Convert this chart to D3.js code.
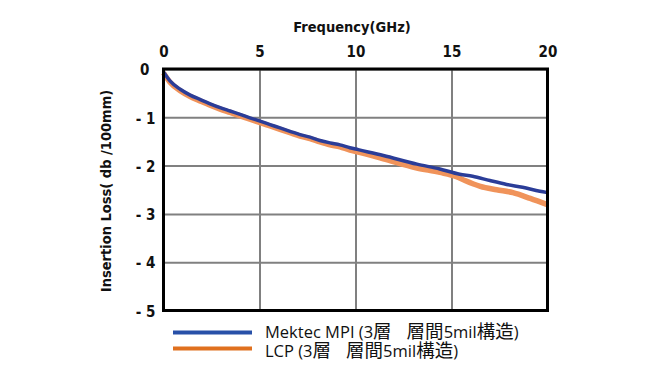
<!DOCTYPE html>
<html><head><meta charset="utf-8">
<script src="https://cdn.jsdelivr.net/npm/d3@7"></script>
<style>
html,body{margin:0;padding:0;background:#fff;}
</style></head>
<body><svg id="c" width="649" height="371"></svg>
<script>
const xTicks = [0, 5, 10, 15, 20];
const yTicks = [0, -1, -2, -3, -4, -5];
const yTickLabels = ["0", "- 1", "- 2", "- 3", "- 4", "- 5"];
const seriesNames = ["Mektec MPI (3層\u3000層間5mil構造)", "LCP (3層\u3000層間5mil構造)"];

const mpiFreq = [0, 0.35, 0.87, 1.39, 1.9, 2.43, 2.95, 3.47, 3.99, 4.5, 5.03, 5.55, 6.07, 6.59, 7.11, 7.63, 8.15, 8.67, 9.19, 9.71, 10.14, 11.45, 13.2, 14.39, 15.43, 16.1, 17.0, 17.87, 18.7, 19.6, 20];
const mpiLoss = [-0.06, -0.25, -0.42, -0.54, -0.63, -0.72, -0.80, -0.87, -0.94, -1.01, -1.08, -1.15, -1.22, -1.29, -1.36, -1.41, -1.48, -1.53, -1.57, -1.63, -1.67, -1.79, -1.97, -2.07, -2.18, -2.22, -2.31, -2.39, -2.45, -2.53, -2.56];

const lcpFreq = [0, 0.35, 0.87, 1.39, 1.9, 2.43, 2.95, 3.47, 3.99, 4.5, 5.03, 5.55, 6.07, 6.59, 7.11, 7.63, 8.15, 8.67, 9.19, 9.71, 10.14, 11.45, 13.2, 14.39, 15.26, 15.7, 16.5, 17.35, 18.2, 19.1, 20];
const lcpLoss = [-0.08, -0.28, -0.45, -0.57, -0.66, -0.75, -0.83, -0.90, -0.97, -1.04, -1.11, -1.18, -1.25, -1.32, -1.39, -1.44, -1.51, -1.57, -1.61, -1.68, -1.72, -1.86, -2.05, -2.14, -2.23, -2.31, -2.43, -2.50, -2.56, -2.68, -2.81];

const svg = d3.select("#c");
const L = 163.5, R = 547.5, T = 69, B = 310.5;
const x = d3.scaleLinear().domain([0, 20]).range([L, R]);
const y = d3.scaleLinear().domain([0, -5]).range([T, B]);

const condensed = "'DejaVu Sans Condensed', 'DejaVu Sans', sans-serif";

// gridlines via axes
const gx = svg.append("g").attr("transform", `translate(0,${B})`)
  .call(d3.axisBottom(x).tickValues(xTicks).tickSize(-(B - T)).tickFormat(""));
gx.select(".domain").remove();
gx.selectAll("line").attr("stroke", "#808080").attr("stroke-width", 2);

const gy = svg.append("g").attr("transform", `translate(${L},0)`)
  .call(d3.axisLeft(y).tickValues(yTicks).tickSize(-(R - L)).tickFormat(""));
gy.select(".domain").remove();
gy.selectAll("line").attr("stroke", "#808080").attr("stroke-width", 2);

// lines
const line = d3.line().x(d => x(d[0])).y(d => y(d[1])).curve(d3.curveMonotoneX);
const lcp = lcpFreq.map((f, i) => [f, lcpLoss[i]]);
const mpi = mpiFreq.map((f, i) => [f, mpiLoss[i]]);
svg.append("path").datum(lcp).attr("d", line).attr("fill", "none")
  .attr("stroke", "#f0935a").attr("stroke-width", 5.5);
svg.append("path").datum(mpi).attr("d", line).attr("fill", "none")
  .attr("stroke", "#2b3d98").attr("stroke-width", 3.5);

// frame
svg.append("rect").attr("x", L).attr("y", T).attr("width", R - L).attr("height", B - T)
  .attr("fill", "none").attr("stroke", "#000").attr("stroke-width", 3);

// top axis labels
const ax = svg.append("g").attr("transform", `translate(0,${T})`)
  .call(d3.axisTop(x).tickValues(xTicks).tickSize(0).tickPadding(12).tickFormat(d3.format("d")));
ax.select(".domain").remove();
ax.selectAll("text").attr("font-family", condensed).attr("font-weight", "bold")
  .attr("font-size", 15).attr("fill", "#111");

// left axis labels
const ay = svg.append("g").attr("transform", `translate(${L},0)`)
  .call(d3.axisLeft(y).tickValues(yTicks).tickSize(0).tickPadding(8)
    .tickFormat((d, i) => yTickLabels[i]));
ay.select(".domain").remove();
ay.selectAll("text").attr("font-family", condensed).attr("font-weight", "bold")
  .attr("font-size", 15).attr("fill", "#111").attr("dy", "0.38em")
  .attr("dx", (d, i) => i === 0 ? -6 : 0);

// titles
svg.append("text").attr("x", 352).attr("y", 32).attr("text-anchor", "middle")
  .attr("font-family", condensed).attr("font-weight", "bold").attr("font-size", 14.5)
  .attr("fill", "#111").text("Frequency(GHz)");
svg.append("text").attr("transform", "translate(111,191) rotate(-90)").attr("text-anchor", "middle")
  .attr("font-family", condensed).attr("font-weight", "bold").attr("font-size", 14.5)
  .attr("fill", "#111").text("Insertion Loss( db /100mm)");

// legend
const legColors = ["#2850a8", "#e0701e"];
const lg = svg.append("g");
seriesNames.forEach((n, i) => {
  const ly = 332.5 + i * 16;
  lg.append("line").attr("x1", 173).attr("x2", 252).attr("y1", ly).attr("y2", ly)
    .attr("stroke", legColors[i]).attr("stroke-width", 4);
  const t = lg.append("text").attr("x", 265).attr("y", 338 + i * 18.5)
    .attr("font-family", "'Open Sans', 'Noto Sans CJK JP', sans-serif").attr("font-size", 16.5)
    .attr("fill", "#111");
  const parts = n.match(/[\u3000]|[\u3400-\u9fff]+|[^\u3000\u3400-\u9fff]+/g);
  parts.forEach(p => {
    const ts = t.append("tspan").text(p);
    if (p === "\u3000") ts.attr("font-size", 15);
    else if (/[\u3400-\u9fff]/.test(p)) ts.attr("font-family", "'Noto Sans CJK JP', sans-serif").attr("font-size", 18.5);
  });
});
</script>
</body></html>
